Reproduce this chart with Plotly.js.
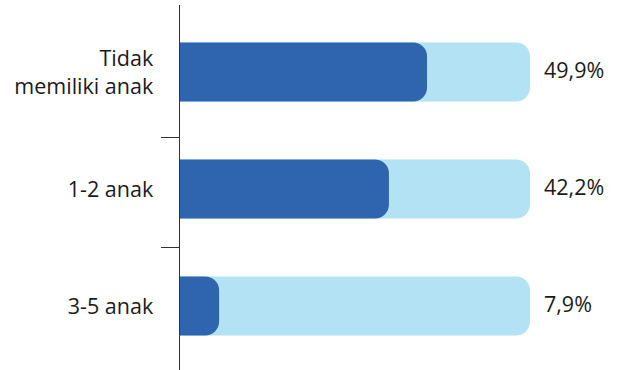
<!DOCTYPE html>
<html>
<head>
<meta charset="utf-8">
<script src="https://cdn.plot.ly/plotly-3.0.1.min.js"></script>
<style>html,body{margin:0;padding:0;background:#fff;}#chart{width:624px;height:370px;}</style>
</head>
<body>
<div id="chart"></div>
<script>
const categories = ["Tidak<br>memiliki anak", "1-2 anak", "3-5 anak"];
const values = [49.9, 42.2, 7.9];
const trackMax = 70.7;
const labels = values.map(v => v.toFixed(1).replace('.', ',') + '%');

const FONT = '"Open Sans", Lato, sans-serif';

const track = {
  type: 'bar', orientation: 'h',
  y: categories, x: categories.map(() => trackMax),
  marker: {color: '#b3e2f4', cornerradius: 14},
  width: 0.505, hoverinfo: 'skip', showlegend: false
};
const bars = {
  type: 'bar', orientation: 'h', xaxis: 'x2',
  y: categories, x: values,
  marker: {color: '#2e65ae', cornerradius: 14},
  width: 0.505, hoverinfo: 'skip', showlegend: false
};
const tickHelper = {
  type: 'scatter', mode: 'markers', yaxis: 'y2',
  x: [0, 0], y: [0.56, 1.5],
  marker: {opacity: 0}, hoverinfo: 'skip', showlegend: false
};

const annotations = categories.map((c, i) => ({
  x: trackMax, y: c, xref: 'x', yref: 'y',
  text: labels[i], showarrow: false,
  xanchor: 'left', yanchor: 'middle', xshift: 12, yshift: 3,
  font: {family: FONT, size: 21.5, color: '#1a1a1a'}
}));

const layout = {
  width: 624, height: 370,
  margin: {l: 180, r: 40, t: 5, b: 0},
  paper_bgcolor: '#fff', plot_bgcolor: '#fff',
  barmode: 'overlay',
  font: {family: FONT, size: 21.5, color: '#1a1a1a'},
  xaxis: {range: [0, 81.6], visible: false, fixedrange: true},
  xaxis2: {overlaying: 'x', range: [0, 81.6], visible: false, fixedrange: true},
  yaxis: {
    type: 'category', range: [2.547, -0.573],
    showline: true, linecolor: '#333', linewidth: 1.5,
    ticks: 'outside', ticklen: 21, tickcolor: 'rgba(0,0,0,0)',
    showgrid: false, zeroline: false,
    tickfont: {family: FONT, size: 21.5, color: '#1a1a1a'}
  },
  yaxis2: {
    overlaying: 'y', side: 'left', range: [2.547, -0.573],
    tickvals: [0.56, 1.5], showticklabels: false,
    ticks: 'outside', ticklen: 18, tickwidth: 1.2, tickcolor: '#333',
    showgrid: false, zeroline: false, showline: false
  },
  annotations: annotations
};

Plotly.newPlot('chart', [track, bars, tickHelper], layout, {displayModeBar: false, staticPlot: true});
</script>
</body>
</html>
